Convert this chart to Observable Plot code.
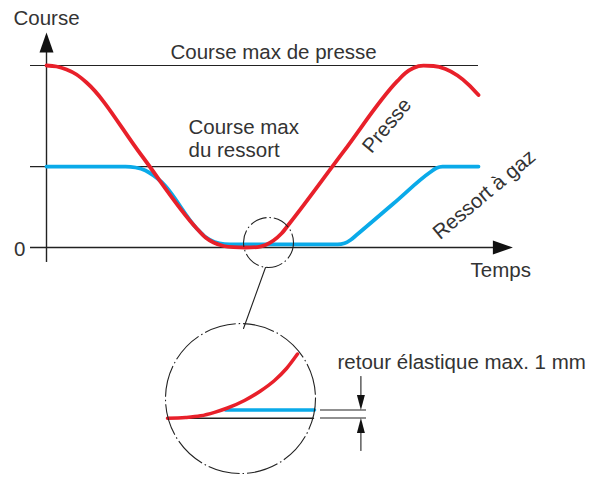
<!DOCTYPE html>
<html>
<head>
<meta charset="utf-8">
<script src="https://cdn.jsdelivr.net/npm/d3@7"></script>
<script src="https://cdn.jsdelivr.net/npm/@observablehq/plot@0.6"></script>
<style>
  html, body { margin: 0; padding: 0; background: #fff; }
  #chart svg { display: block; }
</style>
</head>
<body>
<div id="chart"></div>
<script>
// ---- Data (time units on x, stroke "course" on y) ----
const presseCurve = [[0,90],[2.5,89.5],[5,88],[7.5,85.55],[10,81.6],[23.5,46.24],[37.5,9.54],[39.75,4.95],[41.75,2.47],[44.25,0.74],[46.75,0.15],[49.75,0],[52.75,0.2],[54.75,1.24],[56.75,3.46],[58.75,6.92],[60.75,11.87],[74.25,47.4],[87.75,82.39],[89.75,86.29],[91.75,88.77],[94.25,89.9],[96.75,89.75],[99.75,88.27],[102.75,85.06],[105.5,80.6],[108,75.4]];
const ressortCurve = [[0,40],[19.75,40],[22.25,39.56],[24.75,38.08],[26.75,35.6],[28.75,32.4],[37.5,9.54],[39.75,5.19],[42,2.72],[44.5,1.68],[47.25,1.5],[72.75,1.5],[74.5,2.08],[76,3.71],[77.5,6.18],[86.75,21.76],[96,37.34],[97.5,39.3],[99,39.96],[108,40]];
const maxLevels = [90, 40];           // course max presse, course max ressort
const timeExtent = [-4, 108];
const zeroExtent = [-4, 111.75];
const yAxisExtent = [-7.4, 97.4];
const axisHeads = [{t:0, c:101.35, rot:0}, {t:114.1, c:0, rot:90}];

// magnifier
const loupeSmall = [{t:55.5, c:2.47}];
const loupeBig = [{t:48.5, c:-74.7}];
const loupeLink = [[54.75,-9.89],[49.25,-40.06]];
const insetBase = [[30.25,-84.41],[66.75,-84.41]];
const insetRessort = [[44.75,-80.36],[67,-80.36]];
const insetPresse = [[30.25,-84.41],[34.75,-84.05],[38.5,-83.23],[42,-81.5],[45.25,-79.37],[49.5,-75.66],[53.5,-70.96],[57,-65.77],[60,-59.84],[62.75,-52.67]];

// dimension "1 mm"
const dimLevels = [-80.36, -84.31];
const dimExtent = [68.5, 80];
const dimStemTop = [[78.6,-63.8],[78.6,-76.65]];
const dimStemBottom = [[78.6,-100.4],[78.6,-88]];
const dimHeads = [{t:78.6, c:-76.65, rot:180}, {t:78.6, c:-88.02, rot:0}];

// labels
const startLabels = [
  {text:"Course", t:-8.25, c:113.05},
  {text:"Course max de presse", t:31, c:96.7},
  {text:"Course max", t:35.5, c:59.6},
  {text:"du ressort", t:35.5, c:47.8},
  {text:"Temps", t:106, c:-11.4},
  {text:"retour élastique max. 1 mm", t:72.75, c:-56.6}
];
const endLabels = [
  {text:"0", t:-5.25, c:-1.19}
];
const rotatedLabels = [
  {text:"Presse", t:85.1, c:60.3, rot:-50},
  {text:"Ressort à gaz", t:109.4, c:26.2, rot:-40}
];

// ---- symbols ----
function arrowSymbol(k) {
  return {
    draw(context, size) {
      const r = Math.sqrt(size / Math.PI);
      context.moveTo(0, -r);
      context.lineTo(k * r, r);
      context.lineTo(-k * r, r);
      context.closePath();
    }
  };
}

const ink = "#222";
const red = "#e8202a";
const blue = "#0aaae9";
const fontFamily = "'Liberation Sans', Arial, sans-serif";
const textOpts = {x: "t", y: "c", text: "text", fontSize: 20.5, fill: "#333"};

const chart = Plot.plot({
  width: 606,
  height: 477,
  margin: 0,
  style: {background: "#fff", fontFamily},
  x: {domain: [0, 108], range: [46, 478], axis: null},
  y: {domain: [0, 90], range: [247, 65], axis: null},
  marks: [
    Plot.ruleY(maxLevels, {x1: timeExtent[0], x2: timeExtent[1], stroke: ink, strokeWidth: 1.2}),
    Plot.ruleY([0], {x1: zeroExtent[0], x2: zeroExtent[1], stroke: ink, strokeWidth: 1.4}),
    Plot.ruleX([0], {y1: yAxisExtent[0], y2: yAxisExtent[1], stroke: ink, strokeWidth: 1.4}),
    Plot.dot(axisHeads, {x: "t", y: "c", rotate: "rot", r: 10, symbol: arrowSymbol(0.7), fill: "#111", stroke: "none"}),
    Plot.line(ressortCurve, {x: d => d[0], y: d => d[1], stroke: blue, strokeWidth: 3.8, curve: "monotone-x"}),
    Plot.line(presseCurve, {x: d => d[0], y: d => d[1], stroke: red, strokeWidth: 3.8, curve: "monotone-x"}),
    // magnifier
    Plot.dot(loupeSmall, {x: "t", y: "c", r: 25, fill: "none", stroke: ink, strokeWidth: 1.1, strokeDasharray: "17,3,1.5,3"}),
    Plot.line(loupeLink, {x: d => d[0], y: d => d[1], stroke: ink, strokeWidth: 1.1}),
    Plot.line(insetBase, {x: d => d[0], y: d => d[1], stroke: ink, strokeWidth: 1.4}),
    Plot.line(insetRessort, {x: d => d[0], y: d => d[1], stroke: blue, strokeWidth: 3.5}),
    Plot.line(insetPresse, {x: d => d[0], y: d => d[1], stroke: red, strokeWidth: 3.5, curve: "monotone-x"}),
    Plot.dot(loupeBig, {x: "t", y: "c", r: 75, fill: "none", stroke: ink, strokeWidth: 1.1, strokeDasharray: "32,3,1.5,3"}),
    // dimension
    Plot.ruleY(dimLevels, {x1: dimExtent[0], x2: dimExtent[1], stroke: ink, strokeWidth: 1.2}),
    Plot.line(dimStemTop, {x: d => d[0], y: d => d[1], stroke: ink, strokeWidth: 1.1}),
    Plot.line(dimStemBottom, {x: d => d[0], y: d => d[1], stroke: ink, strokeWidth: 1.1}),
    Plot.dot(dimHeads, {x: "t", y: "c", rotate: "rot", r: 7.5, symbol: arrowSymbol(0.53), fill: "#111", stroke: "none"}),
    // labels
    Plot.text(startLabels, {...textOpts, textAnchor: "start"}),
    Plot.text(endLabels, {...textOpts, textAnchor: "end"}),
    Plot.text(rotatedLabels, {...textOpts, rotate: "rot"})
  ]
});
document.getElementById("chart").appendChild(chart);
</script>
</body>
</html>
